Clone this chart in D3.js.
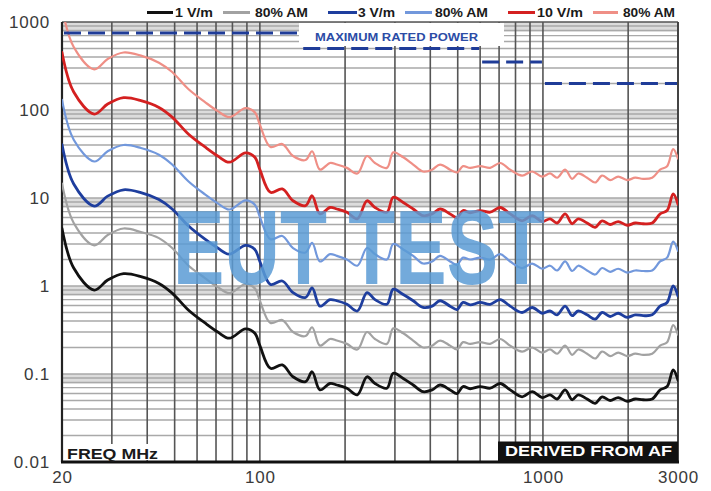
<!DOCTYPE html>
<html>
<head>
<meta charset="utf-8">
<script src="https://cdn.jsdelivr.net/npm/d3@7/dist/d3.min.js"></script>
<style>
  html, body { margin: 0; padding: 0; background: #fff; }
  svg { display: block; font-family: "Liberation Sans", Arial, sans-serif; }
</style>
</head>
<body>
<svg id="chart" width="711" height="491"></svg>
<script>
// ---------- DATA ----------
const freqMHz = [20, 22, 26, 29, 33, 38, 44, 49, 56, 64, 71, 78, 89, 96, 100, 109, 120, 131, 145, 153, 163, 177, 187, 203, 221, 239, 255, 281, 296, 321, 348, 377, 406, 433, 470, 497, 522, 553, 600, 651, 706, 766, 844, 916, 994, 1060, 1122, 1198, 1268, 1332, 1432, 1529, 1618, 1728, 1844, 1984, 2118, 2260, 2432, 2594, 2746, 2884, 3000];

const power1Vm = [4.5, 1.6, 0.90, 1.17, 1.38, 1.28, 1.07, 0.83, 0.53, 0.38, 0.30, 0.255, 0.325, 0.29, 0.21, 0.116, 0.127, 0.093, 0.082, 0.106, 0.066, 0.078, 0.075, 0.069, 0.058, 0.093, 0.078, 0.069, 0.102, 0.089, 0.075, 0.063, 0.066, 0.075, 0.066, 0.060, 0.072, 0.068, 0.072, 0.069, 0.078, 0.066, 0.055, 0.063, 0.054, 0.058, 0.052, 0.066, 0.051, 0.058, 0.052, 0.0465, 0.055, 0.050, 0.054, 0.049, 0.052, 0.051, 0.052, 0.066, 0.072, 0.111, 0.085];

const power1VmAM = [14.6, 5.2, 2.9, 3.8, 4.5, 4.1, 3.5, 2.7, 1.7, 1.23, 0.97, 0.83, 1.05, 0.94, 0.68, 0.38, 0.41, 0.30, 0.27, 0.34, 0.21, 0.25, 0.24, 0.22, 0.19, 0.30, 0.25, 0.22, 0.33, 0.29, 0.24, 0.20, 0.21, 0.24, 0.21, 0.19, 0.23, 0.22, 0.23, 0.22, 0.25, 0.21, 0.18, 0.20, 0.175, 0.19, 0.17, 0.21, 0.165, 0.19, 0.17, 0.15, 0.18, 0.16, 0.175, 0.16, 0.17, 0.165, 0.17, 0.21, 0.23, 0.36, 0.28];

const power3Vm = [40.5, 14.4, 8.1, 10.5, 12.4, 11.5, 9.6, 7.5, 4.8, 3.4, 2.7, 2.3, 2.9, 2.6, 1.9, 1.04, 1.14, 0.84, 0.74, 0.95, 0.59, 0.70, 0.68, 0.62, 0.52, 0.84, 0.70, 0.62, 0.92, 0.80, 0.68, 0.57, 0.59, 0.68, 0.59, 0.54, 0.65, 0.61, 0.65, 0.62, 0.70, 0.59, 0.50, 0.57, 0.49, 0.52, 0.47, 0.59, 0.46, 0.52, 0.47, 0.42, 0.50, 0.45, 0.49, 0.44, 0.47, 0.46, 0.47, 0.59, 0.65, 1.0, 0.77];

const power3VmAM = [130, 46, 26, 34, 40, 37, 31, 24, 15.4, 11, 8.7, 7.4, 9.4, 8.4, 6.1, 3.4, 3.7, 2.7, 2.4, 3.1, 1.9, 2.3, 2.2, 2.0, 1.7, 2.7, 2.3, 2.0, 3.0, 2.6, 2.2, 1.8, 1.9, 2.2, 1.9, 1.74, 2.1, 2.0, 2.1, 2.0, 2.3, 1.9, 1.6, 1.8, 1.57, 1.7, 1.5, 1.9, 1.48, 1.7, 1.5, 1.35, 1.6, 1.45, 1.57, 1.42, 1.5, 1.48, 1.5, 1.9, 2.1, 3.2, 2.5];

const power10Vm = [450, 160, 90, 117, 138, 128, 107, 83, 53, 38, 30, 25.5, 32.5, 29, 21, 11.6, 12.7, 9.3, 8.2, 10.6, 6.6, 7.8, 7.5, 6.9, 5.8, 9.3, 7.8, 6.9, 10.2, 8.9, 7.5, 6.3, 6.6, 7.5, 6.6, 6.0, 7.2, 6.8, 7.2, 6.9, 7.8, 6.6, 5.5, 6.3, 5.4, 5.8, 5.2, 6.6, 5.1, 5.8, 5.2, 4.65, 5.5, 5.0, 5.4, 4.9, 5.2, 5.1, 5.2, 6.6, 7.2, 11.1, 8.5];

const power10VmAM = [1460, 520, 290, 380, 450, 415, 345, 270, 172, 123, 97, 83, 105, 94, 68, 38, 41, 30, 27, 34, 21, 25, 24, 22, 19, 30, 25, 22, 33, 29, 24, 20, 21, 24, 21, 19.5, 23, 22, 23, 22, 25, 21, 18, 20, 17.5, 19, 17, 21, 16.5, 19, 17, 15, 18, 16, 17.5, 16, 17, 16.5, 17, 21, 23, 36, 28];

const seriesLabels = ["1 V/m", "80% AM", "3 V/m", "80% AM", "10 V/m", "80% AM"];

// maximum rated power steps: [fromMHz, toMHz, watts]
const maxPowerFrom = [20, 140, 600, 1000];
const maxPowerTo   = [140, 600, 1000, 3000];
const maxPowerW    = [750, 500, 350, 200];

const yTickValues = [0.01, 0.1, 1, 10, 100, 1000];
const yTickLabels = ["0.01", "0.1", "1", "10", "100", "1000"];
const xTickValues = [20, 100, 1000, 3000];
const xTickLabels = ["20", "100", "1000", "3000"];

// ---------- CHART ----------
const svg = d3.select("#chart");
const L = 62, R = 678, T = 22, B = 462;
const x = d3.scaleLog().domain([20, 3000]).range([L, R]);
const y = d3.scaleLog().domain([0.01, 1000]).range([B, T]);

svg.append("defs").append("clipPath").attr("id", "plotclip")
  .append("rect").attr("x", L).attr("y", T).attr("width", R - L).attr("height", B - T);

const grid = svg.append("g");

// shaded bands near the top of each decade
[0.01, 0.1, 1, 10, 100].forEach(d => {
  const top = d * 10;
  grid.append("rect")
    .attr("x", L).attr("width", R - L)
    .attr("y", y(top)).attr("height", y(top * 0.78) - y(top))
    .attr("fill", "#dcdcdc");
});

// horizontal gridlines
const hVals = [];
for (let e = -2; e <= 2; e++) for (let k = 1; k <= 9; k++) hVals.push(k * Math.pow(10, e));
grid.selectAll("line.h").data(hVals).enter().append("line")
  .attr("x1", L).attr("x2", R)
  .attr("y1", d => y(d)).attr("y2", d => y(d))
  .attr("stroke", "#a9a9a9").attr("stroke-width", 1.4);

// vertical gridlines
const vVals = [30, 40, 50, 60, 70, 80, 90, 100, 200, 300, 400, 500, 600, 700, 800, 900, 1000, 2000];
grid.selectAll("line.v").data(vVals).enter().append("line")
  .attr("y1", T).attr("y2", B)
  .attr("x1", d => x(d)).attr("x2", d => x(d))
  .attr("stroke", "#555").attr("stroke-width", 1.6);

// border
grid.append("line").attr("x1", L).attr("x2", R).attr("y1", T).attr("y2", T).attr("stroke", "#555").attr("stroke-width", 1.6);
grid.append("line").attr("x1", R).attr("x2", R).attr("y1", T).attr("y2", B).attr("stroke", "#444").attr("stroke-width", 2);
grid.append("line").attr("x1", L).attr("x2", L).attr("y1", T).attr("y2", B).attr("stroke", "#222").attr("stroke-width", 2.2);

// curves
const series = [
  { v: power10VmAM, c: "#ef8f86", w: 2.2 },
  { v: power10Vm,   c: "#d42020", w: 2.8 },
  { v: power3VmAM,  c: "#7298dc", w: 2.2 },
  { v: power3Vm,    c: "#1e3e9e", w: 2.8 },
  { v: power1VmAM,  c: "#a2a2a2", w: 2.2 },
  { v: power1Vm,    c: "#111111", w: 2.8 }
];
const line = d3.line()
  .x((d, i) => x(freqMHz[i]))
  .y(d => y(d))
  .curve(d3.curveCatmullRom.alpha(0.5));
const curves = svg.append("g").attr("clip-path", "url(#plotclip)");
series.forEach(s => {
  curves.append("path")
    .attr("d", line(s.v))
    .attr("fill", "none")
    .attr("stroke", s.c)
    .attr("stroke-width", s.w)
    .attr("stroke-linejoin", "round")
    .attr("stroke-linecap", "round");
});

// maximum rated power label box
svg.append("rect").attr("x", 299).attr("y", T + 1).attr("width", 205).attr("height", 23).attr("fill", "#fff");
svg.append("text").attr("x", 315).attr("y", 41)
  .attr("font-size", 11).attr("font-weight", "bold").attr("fill", "#2b4ca6")
  .attr("textLength", 163).attr("lengthAdjust", "spacingAndGlyphs")
  .text("MAXIMUM RATED POWER");

// maximum rated power dashed steps
maxPowerW.forEach((w, i) => {
  svg.append("line")
    .attr("x1", x(maxPowerFrom[i]) + 2).attr("x2", x(maxPowerTo[i]) - 1)
    .attr("y1", y(w)).attr("y2", y(w))
    .attr("stroke", "#1f3c98").attr("stroke-width", 3)
    .attr("stroke-dasharray", "17,7");
});

// bottom axis line
svg.append("line").attr("x1", L - 1).attr("x2", R + 1).attr("y1", B).attr("y2", B).attr("stroke", "#111").attr("stroke-width", 3);

// FREQ MHz label
svg.append("rect").attr("x", L + 2).attr("y", 444).attr("width", 96).attr("height", 16).attr("fill", "#fff");
svg.append("text").attr("x", 67).attr("y", 458.5)
  .attr("font-size", 14.5).attr("font-weight", "bold").attr("fill", "#1a1a1a")
  .attr("textLength", 91).attr("lengthAdjust", "spacingAndGlyphs")
  .text("FREQ MHz");

// DERIVED FROM AF label
svg.append("rect").attr("x", 498).attr("y", 441.5).attr("width", R - 498).attr("height", B - 441.5).attr("fill", "#111");
svg.append("text").attr("x", 505).attr("y", 456)
  .attr("font-size", 15).attr("font-weight", "bold").attr("fill", "#fff")
  .attr("textLength", 167).attr("lengthAdjust", "spacingAndGlyphs")
  .text("DERIVED FROM AF");

// axes
const yAxis = d3.axisLeft(y).tickValues(yTickValues)
  .tickFormat((d, i) => yTickLabels[i]).tickSize(0).tickPadding(12);
const gy = svg.append("g").attr("transform", `translate(${L},0)`).call(yAxis);
gy.select(".domain").remove();
gy.selectAll("text").attr("font-size", 17).attr("fill", "#3a3a3a")
  .attr("letter-spacing", 0.8).attr("font-family", "'Liberation Sans', Arial, sans-serif");

const xAxis = d3.axisBottom(x).tickValues(xTickValues)
  .tickFormat((d, i) => xTickLabels[i]).tickSize(0).tickPadding(9);
const gx = svg.append("g").attr("transform", `translate(0,${B})`).call(xAxis);
gx.select(".domain").remove();
gx.selectAll("text").attr("font-size", 17).attr("fill", "#3a3a3a")
  .attr("letter-spacing", 0.8).attr("font-family", "'Liberation Sans', Arial, sans-serif");

// legend
const legendColors = ["#111111", "#a2a2a2", "#1e3e9e", "#7298dc", "#d42020", "#ef8f86"];
const legLine = [[147, 173], [223, 250], [328, 357], [405, 432], [508, 535], [593, 618]];
const legText = [[175, 38], [255, 53], [358, 37], [435, 53], [537, 46], [623, 52]];
const leg = svg.append("g");
seriesLabels.forEach((lab, i) => {
  leg.append("line").attr("x1", legLine[i][0]).attr("x2", legLine[i][1])
    .attr("y1", 12.5).attr("y2", 12.5)
    .attr("stroke", legendColors[i]).attr("stroke-width", 3);
  leg.append("text").attr("x", legText[i][0]).attr("y", 17)
    .attr("font-size", 12.5).attr("font-weight", "bold").attr("fill", "#1a1a1a")
    .attr("textLength", legText[i][1]).attr("lengthAdjust", "spacingAndGlyphs")
    .text(lab);
});

// watermark
svg.append("text").attr("x", 173).attr("y", 284)
  .attr("font-size", 106).attr("font-weight", "bold")
  .attr("fill", "#5b9bd5").attr("fill-opacity", 0.85)
  .attr("textLength", 372).attr("lengthAdjust", "spacingAndGlyphs")
  .text("EUT TEST");
</script>
</body>
</html>
